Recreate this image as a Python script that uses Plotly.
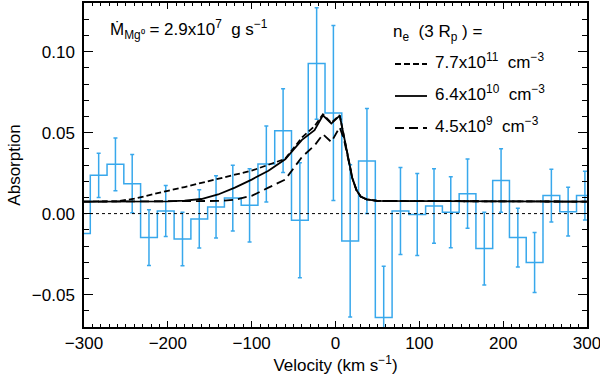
import numpy as np
import plotly.graph_objects as go

# ---- data -------------------------------------------------------------
bin_centers = [-302.5, -282.5, -262.5, -242.5, -222.5, -202.5, -182.5, -162.5,
               -142.5, -122.5, -102.5, -82.5, -62.5, -42.5, -22.5, -2.5,
               17.5, 37.5, 57.5, 77.5, 97.5, 117.5, 137.5, 157.5, 177.5,
               197.5, 217.5, 237.5, 257.5, 277.5, 297.5]
absorption = [-0.0123, 0.0236, 0.0304, 0.0185, -0.0148, 0.0016, -0.0157, -0.0033,
              0.0041, 0.0096, 0.0051, 0.0306, 0.0512, -0.0041, 0.0926, 0.0621,
              -0.0169, 0.0325, -0.0642, 0.0016, -0.0006, 0.0047, 0.0008, 0.0123,
              -0.0216, 0.0204, -0.0148, -0.0302, 0.0111, 0.0012, 0.0111]
abs_err = [0.012, 0.0136, 0.0163, 0.018, 0.0172, 0.0158, 0.0165, 0.018,
           0.0192, 0.0203, 0.0226, 0.0234, 0.0258, 0.0355, 0.0344, 0.054,
           0.047, 0.0324, 0.0317, 0.0269, 0.0253, 0.023, 0.0219, 0.0214,
           0.0225, 0.0196, 0.0181, 0.0185, 0.0163, 0.0151, 0.0151]

model_vel = [-300, -260, -240, -220, -200, -180, -160, -140, -120, -100, -80,
             -60, -40, -25, -15, -5, 5, 10, 15, 20, 25, 30, 37, 50, 300]
model_hi = [0.0074, 0.0076, 0.0092, 0.0118, 0.0141, 0.0164, 0.0188, 0.0214,
            0.0240, 0.0265, 0.0300, 0.0338, 0.0470, 0.0540, 0.0613, 0.0560,
            0.0608, 0.048, 0.034, 0.022, 0.0145, 0.0105, 0.0088, 0.0078, 0.0074]
model_mid = [0.0074, 0.0074, 0.0074, 0.0074, 0.0075, 0.0080, 0.0090, 0.0118,
             0.0160, 0.0210, 0.0265, 0.0335, 0.0455, 0.0515, 0.0607, 0.0556,
             0.0605, 0.048, 0.034, 0.022, 0.0145, 0.0105, 0.0088, 0.0078, 0.0074]
model_lo = [0.0074, 0.0074, 0.0074, 0.0074, 0.0074, 0.0074, 0.0075, 0.0078,
            0.0085, 0.0110, 0.0160, 0.0210, 0.0350, 0.0420, 0.0490, 0.0442,
            0.0533, 0.046, 0.034, 0.022, 0.0145, 0.0105, 0.0088, 0.0078, 0.0074]

model_labels = ["7.7x10<sup>11</sup>  cm<sup>\u22123</sup>",
                "6.4x10<sup>10</sup>  cm<sup>\u22123</sup>",
                "4.5x10<sup>9</sup>  cm<sup>\u22123</sup>"]
model_dashes = ["6px,3px", "solid", "9px,5px"]

x_ticks = [-300, -200, -100, 0, 100, 200, 300]
y_ticks = [-0.05, 0.0, 0.05, 0.10]

# ---- layout constants -------------------------------------------------
W, H = 600, 376
ML, MR, MT, MB = 84, 13, 3, 49
PW, PH = W - ML - MR, H - MT - MB
FONT = "Liberation Sans, Arial, Helvetica, sans-serif"
BLUE = "#38A8EC"
FS = 17


def px(x):
    return (x - ML) / PW


def py(y):
    return (H - MB - y) / PH


fig = go.Figure()

# histogram steps
centers = np.array(bin_centers)
edges = list(centers - 10) + [centers[-1] + 10]
fig.add_trace(go.Scatter(x=edges, y=list(absorption) + [absorption[-1]],
                         mode="lines", line=dict(color=BLUE, width=1.5, shape="hv"),
                         showlegend=False, hoverinfo="skip", cliponaxis=True))
# error bars
fig.add_trace(go.Scatter(x=bin_centers, y=absorption, mode="markers",
                         marker=dict(size=0.1, color=BLUE, opacity=0),
                         error_y=dict(type="data", array=abs_err, visible=True,
                                      color=BLUE, thickness=1.5, width=2),
                         showlegend=False, hoverinfo="skip"))

# model curves
for vals, dash in zip([model_hi, model_mid, model_lo], model_dashes):
    fig.add_trace(go.Scatter(x=model_vel, y=vals, mode="lines",
                             line=dict(color="black", width=1.8, dash=dash),
                             showlegend=False, hoverinfo="skip"))

# zero line
fig.add_hline(y=0, line=dict(color="black", width=1, dash="dot"))

# annotations
fig.add_annotation(xref="paper", yref="paper", x=px(108), y=py(29),
                   xanchor="left", yanchor="middle", showarrow=False,
                   text="\u1E40<sub>Mg\u2070</sub> = 2.9x10<sup>7</sup>  g s<sup>\u22121</sup>",
                   font=dict(family=FONT, size=FS, color="black"))
fig.add_annotation(xref="paper", yref="paper", x=px(391), y=py(33),
                   xanchor="left", yanchor="middle", showarrow=False,
                   text="n<sub>e</sub>  (3 R<sub>p</sub> ) =",
                   font=dict(family=FONT, size=FS, color="black"))
leg_y = [64, 96, 128]
for lbl, dash, yy in zip(model_labels, model_dashes, leg_y):
    fig.add_shape(type="line", xref="paper", yref="paper",
                  x0=px(395), x1=px(427), y0=py(yy), y1=py(yy),
                  line=dict(color="black", width=1.8, dash=dash))
    fig.add_annotation(xref="paper", yref="paper", x=px(433), y=py(yy - 3),
                       xanchor="left", yanchor="middle", showarrow=False,
                       text=lbl, font=dict(family=FONT, size=FS, color="black"))

axis_common = dict(showline=True, linecolor="black", linewidth=1.5, mirror="allticks",
                   ticks="inside", tickcolor="black", tickwidth=1.2,
                   showgrid=False, zeroline=False,
                   tickfont=dict(family=FONT, size=FS, color="black"))

fig.update_xaxes(range=[-300, 300], tickvals=x_ticks, ticklen=6,
                 ticklabeloverflow="allow",
                 minor=dict(dtick=10, ticklen=3, ticks="inside", tickcolor="black", tickwidth=1),
                 title=dict(text="Velocity (km s<sup>\u22121</sup>)",
                            font=dict(family=FONT, size=FS, color="black"), standoff=3),
                 **axis_common)
fig.update_yaxes(range=[-0.07, 0.13], tickvals=y_ticks, tickformat=".2f", ticklen=9,
                 minor=dict(dtick=0.01, ticklen=5, ticks="inside", tickcolor="black", tickwidth=1),
                 title=dict(text="Absorption", font=dict(family=FONT, size=FS, color="black"),
                            standoff=7),
                 ticklabelstandoff=4,
                 **axis_common)

fig.update_layout(width=W, height=H, margin=dict(l=ML, r=MR, t=MT, b=MB, autoexpand=False),
                  plot_bgcolor="white", paper_bgcolor="white",
                  font=dict(family=FONT, color="black"))

fig.write_html("out.html", config={"displayModeBar": False},
               post_script="document.body.style.margin='0';document.body.style.overflow='hidden';")
